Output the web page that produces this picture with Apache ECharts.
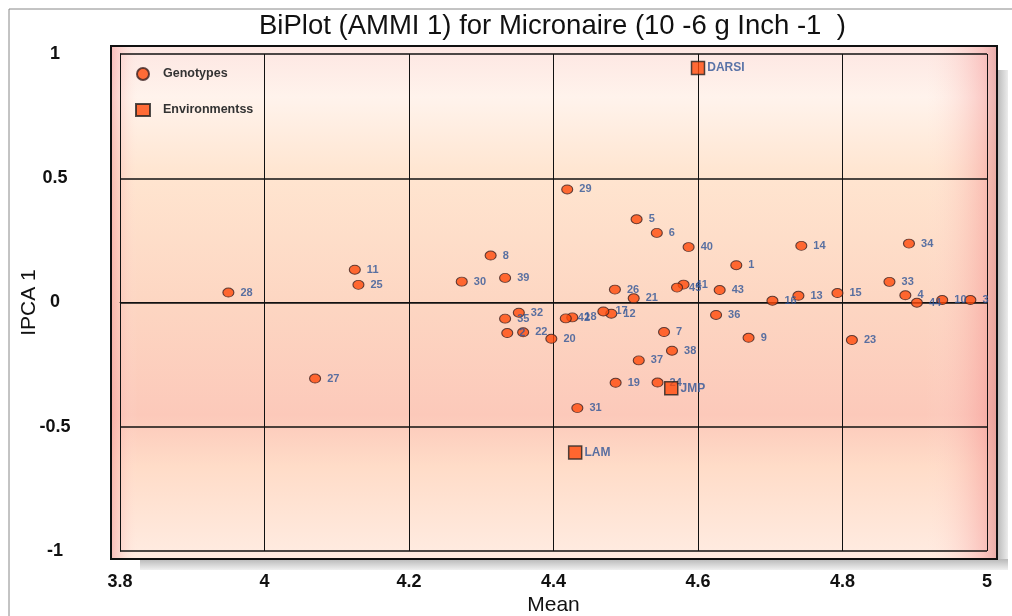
<!DOCTYPE html>
<html>
<head>
<meta charset="utf-8">
<script src="https://cdn.jsdelivr.net/npm/echarts@6/dist/echarts.min.js"></script>
<style>html,body{margin:0;padding:0;background:#fff}#c{width:1012px;height:616px}</style>
</head>
<body>
<div id="c"></div>
<script>
// ---- data ----
const genoIds   = ['1','2','3','4','5','6','7','8','9','10','11','12','13','14','15','16','17','18','19','20','21','22','23','24','25','26','27','28','29','30','31','32','33','34','35','36','37','38','39','40','41','42','43','44','45'];
const genoMean  = [4.653,4.336,4.977,4.887,4.515,4.543,4.553,4.313,4.670,4.938,4.125,4.480,4.739,4.743,4.793,4.703,4.469,4.426,4.486,4.397,4.511,4.358,4.813,4.544,4.130,4.485,4.070,3.950,4.419,4.273,4.433,4.352,4.865,4.892,4.333,4.625,4.518,4.564,4.333,4.587,4.580,4.417,4.630,4.903,4.571];
const genoIPCA  = [0.150,-0.123,0.010,0.029,0.335,0.280,-0.119,0.189,-0.142,0.010,0.132,-0.045,0.027,0.228,0.038,0.007,-0.036,-0.060,-0.323,-0.146,0.017,-0.120,-0.151,-0.322,0.071,0.052,-0.306,0.040,0.455,0.084,-0.425,-0.041,0.083,0.237,-0.065,-0.050,-0.233,-0.194,0.099,0.223,0.072,-0.064,0.050,-0.001,0.060];
const envNames  = ['DARSI','JMP','LAM'];
const envMean   = [4.600,4.563,4.430];
const envIPCA   = [0.944,-0.345,-0.604];
const xTicks    = [3.8,4,4.2,4.4,4.6,4.8,5];
const yTicks    = [-1,-0.5,0,0.5,1];

const genoData = genoIds.map((id,i)=>({name:id,value:[genoMean[i],genoIPCA[i]]}));
const envData  = envNames.map((n,i)=>({name:n,value:[envMean[i],envIPCA[i]]}));

const chart = echarts.init(document.getElementById('c'), null, {renderer:'canvas'});
const F = 'Liberation Sans, Arial, sans-serif';
const labCol = '#2f5597';

chart.setOption({
  animation:false,
  backgroundColor:'#fff',
  title:{
    text:'BiPlot (AMMI 1) for Micronaire (10 -6 g Inch -1  )',
    left:254, top:7,
    textStyle:{fontFamily:F,fontSize:27.5,fontWeight:'normal',color:'#111'}
  },
  graphic:[
    {type:'rect',shape:{x:9,y:9,width:1012,height:620},style:{fill:'none',stroke:'#888',lineWidth:1},z:-10},
    // shadow
    {type:'rect',shape:{x:997,y:70,width:11,height:498},style:{fill:new echarts.graphic.LinearGradient(0,0,1,0,[{offset:0,color:'#b8b8b8'},{offset:1,color:'#ececec'}])},z:-9},
    {type:'rect',shape:{x:140,y:559,width:868,height:11},style:{fill:new echarts.graphic.LinearGradient(0,0,0,1,[{offset:0,color:'#b8b8b8'},{offset:1,color:'#f0f0f0'}])},z:-9},
    // plot background
    {type:'rect',shape:{x:111,y:46,width:886,height:513},style:{fill:new echarts.graphic.LinearGradient(0,0,0,1,[
      {offset:0,color:'#fde6e2'},{offset:0.1,color:'#fff3ec'},{offset:0.25,color:'#ffe5d0'},
      {offset:0.5,color:'#fdd6c2'},{offset:0.72,color:'#fcc9ba'},{offset:0.82,color:'#ffdcc8'},{offset:1,color:'#ffece2'}])},z:-8},
    {type:'rect',shape:{x:111,y:46,width:886,height:513},style:{fill:new echarts.graphic.LinearGradient(0,0,1,0,[
      {offset:0,color:'rgba(245,150,150,0.55)'},{offset:0.03,color:'rgba(255,230,220,0)'},
      {offset:0.92,color:'rgba(255,230,220,0)'},{offset:0.985,color:'rgba(245,150,150,0.45)'},{offset:1,color:'rgba(215,130,130,0.6)'}])},z:-7},
    {type:'rect',shape:{x:111,y:46,width:886,height:513},style:{fill:'none',stroke:'#111',lineWidth:2},z:50}
  ],
  legend:{
    orient:'vertical', left:130, top:62, itemGap:22, itemWidth:14, itemHeight:12,
    data:['Genotypes','Environmentss'],
    textStyle:{fontFamily:F,fontSize:12.5,fontWeight:'bold',color:'#333',padding:[0,0,0,8]}
  },
  grid:{left:120,right:25,top:54,bottom:65,containLabel:false,outerBoundsMode:'none'},
  xAxis:{
    type:'value',min:3.8,max:5,interval:0.2,
    name:'Mean',nameLocation:'middle',nameGap:44,nameMoveOverlap:false,
    nameTextStyle:{fontFamily:F,fontSize:21,color:'#111'},
    axisLine:{show:true,lineStyle:{color:'#111',width:1}},
    axisTick:{show:false},
    splitLine:{show:true,lineStyle:{color:'#111',width:1}},
    axisLabel:{margin:22,fontFamily:F,fontSize:18,fontWeight:'bold',color:'#111',
      formatter:v=>{const t=xTicks.find(k=>Math.abs(k-v)<1e-6);return t===undefined?'':String(t);}}
  },
  yAxis:{
    type:'value',min:-1,max:1,interval:0.5,
    name:'IPCA 1',nameLocation:'middle',nameGap:80,nameMoveOverlap:false,
    nameTextStyle:{fontFamily:F,fontSize:21,color:'#111'},
    axisLine:{show:true,lineStyle:{color:'#111',width:1}},
    axisTick:{show:false},
    splitLine:{show:true,lineStyle:{color:'#111',width:1.6}},
    axisLabel:{margin:65,align:'center',fontFamily:F,fontSize:18,fontWeight:'bold',color:'#111',
      formatter:v=>{const t=yTicks.find(k=>Math.abs(k-v)<1e-6);return t===undefined?'':String(t);}}
  },
  series:[
    {
      name:'Genotypes',type:'scatter',data:genoData,
      symbol:'circle',symbolSize:[11,9],
      itemStyle:{color:'#ff4a0a',borderColor:'#3a2020',borderWidth:1},
      label:{show:true,position:'right',distance:6,formatter:'{b}',
        fontFamily:F,fontSize:11,fontWeight:'bold',color:labCol},
      z:5
    },
    {
      name:'Environmentss',type:'scatter',data:envData,
      symbol:'rect',symbolSize:13,
      itemStyle:{color:'#ff4a0a',borderColor:'#222',borderWidth:1.5},
      label:{show:true,position:'right',distance:2,formatter:'{b}',
        fontFamily:F,fontSize:12,fontWeight:'bold',color:labCol},
      z:6
    }
  ]
});
</script>
</body>
</html>
